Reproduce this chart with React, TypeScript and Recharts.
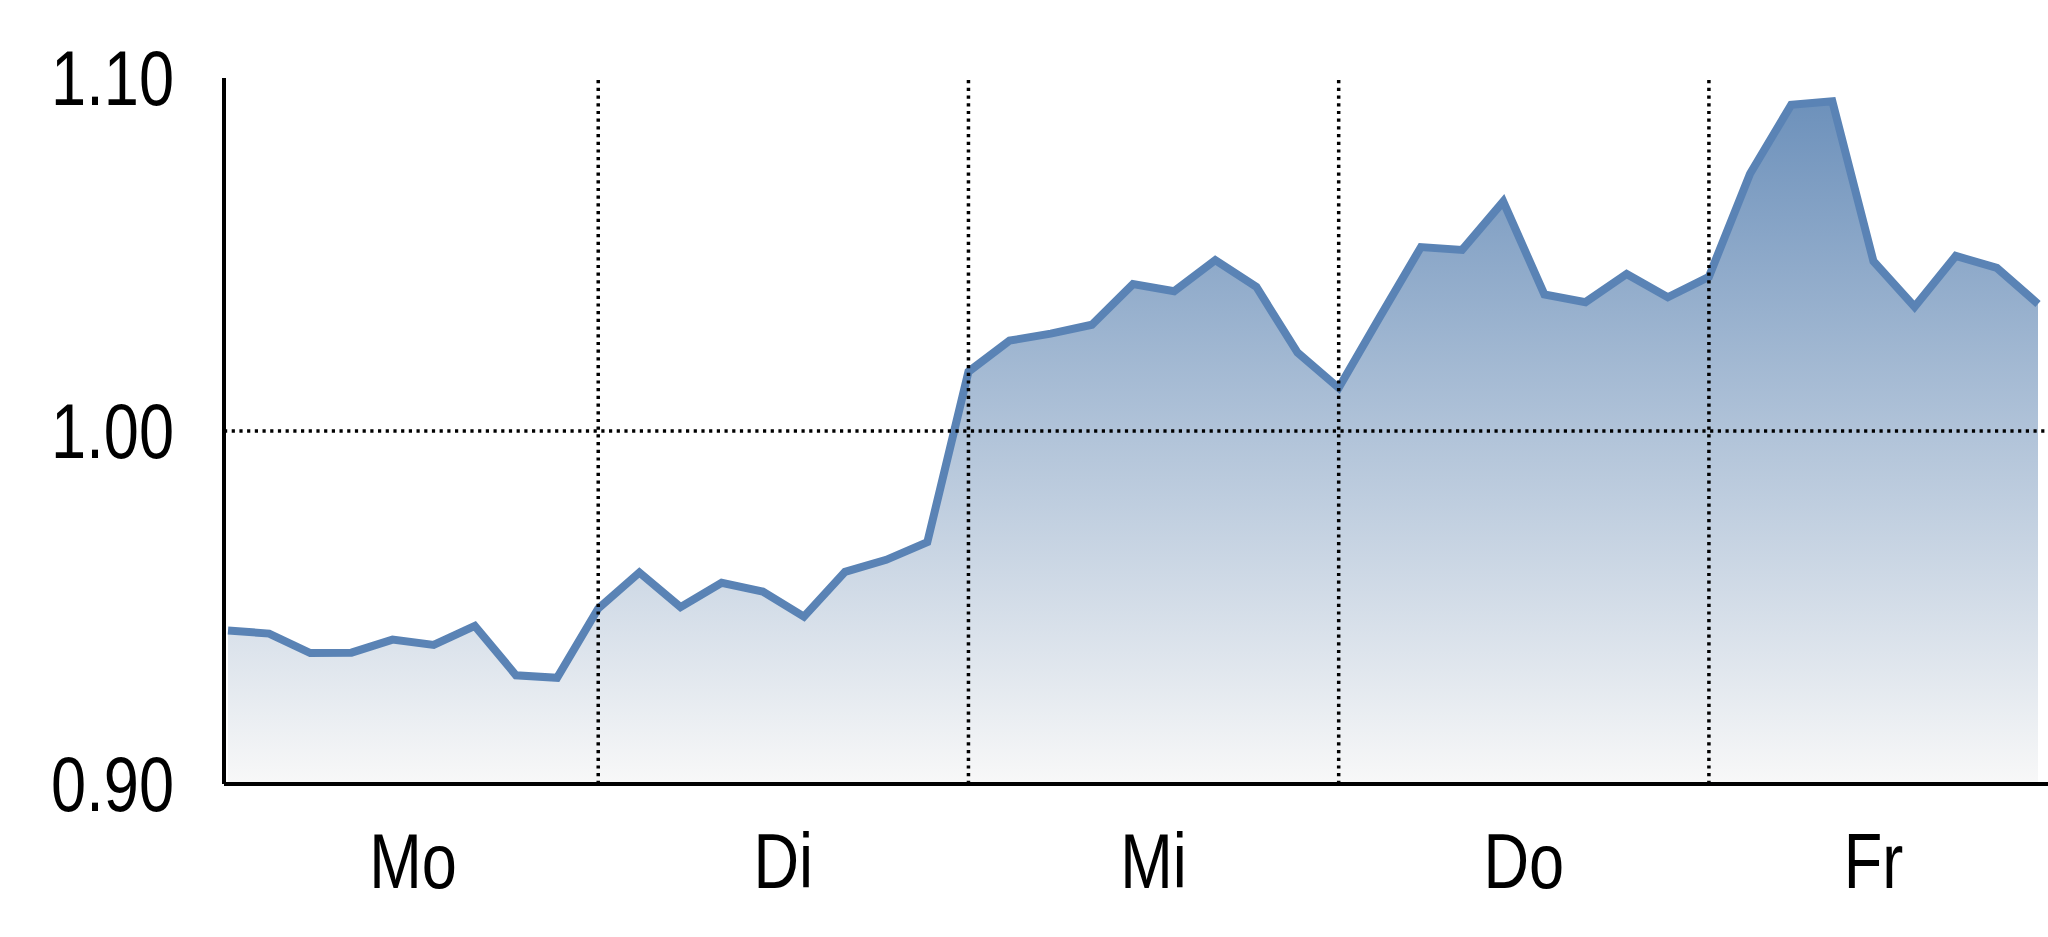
import { ComposedChart, Area, XAxis, YAxis, ReferenceLine } from "recharts";

// hourly index across the week, 9 steps per trading day
const hours = [
  0, 1, 2, 3, 4, 5, 6, 7, 8, 9, 10, 11, 12, 13, 14, 15, 16, 17, 18, 19, 20, 21, 22,
  23, 24, 25, 26, 27, 28, 29, 30, 31, 32, 33, 34, 35, 36, 37, 38, 39, 40, 41, 42, 43, 44,
];
const rate = [
  0.9435, 0.9426, 0.9371, 0.9372, 0.9409, 0.9394, 0.9448, 0.9308, 0.9301, 0.9497,
  0.9599, 0.9501, 0.957, 0.9545, 0.9474, 0.9601, 0.9635, 0.9685, 1.0168, 1.0256,
  1.0276, 1.0301, 1.0416, 1.0396, 1.0484, 1.0408, 1.0222, 1.0122, 1.0323, 1.0521,
  1.0513, 1.065, 1.0387, 1.0365, 1.0445, 1.0379, 1.0437, 1.0729, 1.0924, 1.0934,
  1.0481, 1.0352, 1.0496, 1.0462, 1.036,
];
const dayLabels = ["Mo", "Di", "Mi", "Do", "Fr"];
const dayCenters = [4.5, 13.5, 22.5, 31.5, 40];
const dayBreaks = [9, 18, 27, 36];
const yTicks = [0.9, 1.0, 1.1];

const data = hours.map((h, k) => ({ h, rate: rate[k] }));

const font = "'Liberation Sans', Arial, sans-serif";
const FS = 77;
const SQUEEZE = 0.82; // the original labels use a narrow face
const dotted = { stroke: "#000", strokeWidth: 3.5, strokeDasharray: "3.2 4.5" };
const axisLine = { stroke: "#000", strokeWidth: 4 };

function narrowTick(anchor: "end" | "middle", dy: string, fmt: (v: number) => string) {
  return (props: any) => {
    const { x, y, payload } = props;
    return (
      <g transform={`translate(${x},${y})`}>
        <text
          transform={`scale(${SQUEEZE},1)`}
          textAnchor={anchor}
          dy={dy}
          fontSize={FS}
          fontFamily={font}
          fill="#000"
        >
          {fmt(payload.value)}
        </text>
      </g>
    );
  };
}

const dayTick = narrowTick("middle", "0.71em", (v) => dayLabels[dayCenters.indexOf(v)] ?? "");
const rateTick = narrowTick("end", "0.355em", (v) => v.toFixed(2));

export default function App() {
  return (
    <div style={{ position: "absolute", left: 0, top: 0, background: "#fff" }}>
      <ComposedChart width={2048} height={937} data={data} margin={{ top: 78, right: 0, left: 0, bottom: 0 }}>
        <defs>
          <linearGradient id="fxFill" x1="0" y1="0" x2="0" y2="1">
            <stop offset="0%" stopColor="#6d91bb" />
            <stop offset="100%" stopColor="#f8f8f8" />
          </linearGradient>
        </defs>
        <XAxis
          dataKey="h"
          type="number"
          domain={[0, 44]}
          ticks={dayCenters}
          interval={0}
          padding={{ left: 4, right: 10 }}
          height={153}
          tickLine={false}
          tickSize={0}
          tickMargin={49}
          axisLine={axisLine}
          tick={dayTick}
        />
        <YAxis
          type="number"
          domain={[0.9, 1.1]}
          ticks={yTicks}
          width={224}
          tickLine={false}
          tickSize={0}
          tickMargin={50}
          axisLine={axisLine}
          tick={rateTick}
        />
        <Area
          type="linear"
          dataKey="rate"
          stroke="#5a83b5"
          strokeWidth={8}
          fill="url(#fxFill)"
          fillOpacity={1}
          baseValue={0.9}
          dot={false}
          activeDot={false}
          isAnimationActive={false}
        />
        <ReferenceLine y={1} {...dotted} />
        {dayBreaks.map((x) => (
          <ReferenceLine key={x} x={x} {...dotted} />
        ))}
      </ComposedChart>
    </div>
  );
}
